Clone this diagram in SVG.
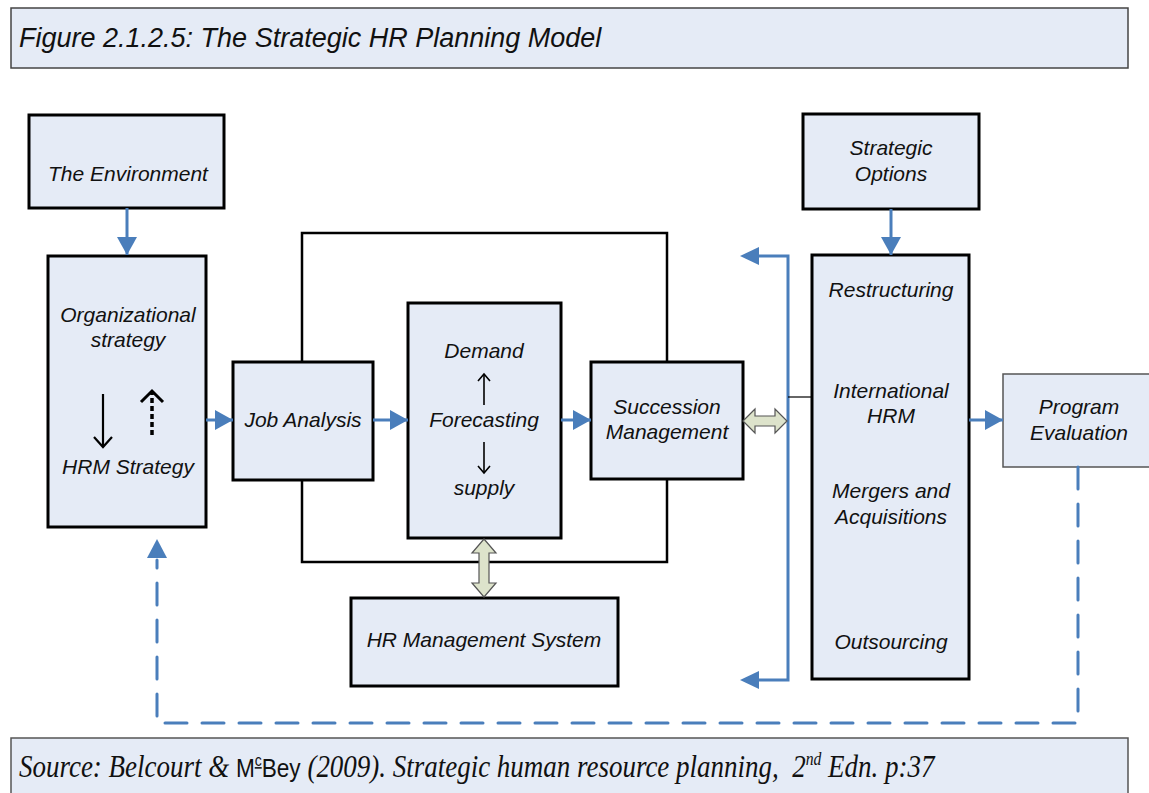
<svg xmlns="http://www.w3.org/2000/svg" width="1149" height="793" viewBox="0 0 1149 793">
<style>
.box{fill:#e5ebf6;stroke:#000;stroke-width:3}
.thin{fill:#e5ebf6;stroke:#555;stroke-width:1.5}
.t{font-family:"Liberation Sans",Arial,sans-serif;font-style:italic;font-size:21px;fill:#111;text-anchor:middle}
.blue{stroke:#4a7ebb;stroke-width:3;fill:none}
.bh{fill:#4a7ebb}
.blk{fill:#dde3cb;stroke:#555;stroke-width:1.2}
</style>
<defs>
<marker id="ah" markerUnits="userSpaceOnUse" markerWidth="20" markerHeight="22" refX="18" refY="10" orient="auto">
<path d="M0,0 L18,10 L0,20 Z" fill="#4a7ebb"/>
</marker>
</defs>

<g id="title">
<rect x="11" y="8" width="1117" height="60" class="thin" style="stroke:#444"/>
<text x="19" y="47" style="font-family:'Liberation Sans',Arial,sans-serif;font-style:italic;font-size:27px;fill:#111">Figure 2.1.2.5: The Strategic HR Planning Model</text>
</g>

<g id="outer-frame">
<rect x="302" y="233" width="365" height="329" fill="none" stroke="#000" stroke-width="2.5"/>
</g>

<g id="environment">
<rect x="29" y="115" width="195" height="93" class="box"/>
<text x="128" y="181" class="t">The Environment</text>
</g>

<g id="org-strategy">
<rect x="48" y="256" width="158" height="271" class="box"/>
<text x="128" y="322" class="t">Organizational</text>
<text x="128" y="347" class="t">strategy</text>
<text x="128" y="474" class="t">HRM Strategy</text>
<line x1="103" y1="394" x2="103" y2="447" stroke="#000" stroke-width="2.2"/>
<polyline points="94,437 103,447 112,437" fill="none" stroke="#000" stroke-width="2.2"/>
<line x1="152" y1="435" x2="152" y2="393" stroke="#000" stroke-width="3.5" stroke-dasharray="5,3"/>
<polyline points="141,402 152,391 163,402" fill="none" stroke="#000" stroke-width="3"/>
</g>

<g id="job-analysis">
<rect x="233" y="362" width="140" height="118" class="box"/>
<text x="303" y="427" class="t">Job Analysis</text>
</g>

<g id="forecasting">
<rect x="408" y="303" width="153" height="235" class="box"/>
<text x="484" y="358" class="t">Demand</text>
<text x="484" y="427" class="t">Forecasting</text>
<text x="484" y="495" class="t">supply</text>
<line x1="484" y1="405" x2="484" y2="374" stroke="#000" stroke-width="1.6"/>
<polyline points="478,381 484,374 490,381" fill="none" stroke="#000" stroke-width="1.6"/>
<line x1="484" y1="442" x2="484" y2="473" stroke="#000" stroke-width="1.6"/>
<polyline points="478,466 484,473 490,466" fill="none" stroke="#000" stroke-width="1.6"/>
</g>

<g id="succession">
<rect x="591" y="362" width="152" height="117" class="box"/>
<text x="667" y="414" class="t">Succession</text>
<text x="667" y="439" class="t">Management</text>
</g>

<g id="hr-system">
<rect x="351" y="598" width="267" height="88" class="box"/>
<text x="484" y="647" class="t">HR Management System</text>
</g>

<g id="strategic-options">
<rect x="803" y="114" width="176" height="95" class="box"/>
<text x="891" y="155" class="t">Strategic</text>
<text x="891" y="181" class="t">Options</text>
</g>

<g id="options-list">
<rect x="812" y="255" width="157" height="424" class="box"/>
<text x="891" y="297" class="t">Restructuring</text>
<text x="891" y="398" class="t">International</text>
<text x="891" y="423" class="t">HRM</text>
<text x="891" y="498" class="t">Mergers and</text>
<text x="891" y="524" class="t">Acquisitions</text>
<text x="891" y="649" class="t">Outsourcing</text>
</g>

<g id="program-evaluation">
<rect x="1003" y="374" width="150" height="93" class="thin"/>
<text x="1079" y="414" class="t">Program</text>
<text x="1079" y="440" class="t">Evaluation</text>
</g>

<g id="connectors">
<line x1="127" y1="208" x2="127" y2="255" class="blue" marker-end="url(#ah)"/>
<line x1="891" y1="209" x2="891" y2="255" class="blue" marker-end="url(#ah)"/>
<line x1="206" y1="420" x2="233" y2="420" class="blue" marker-end="url(#ah)"/>
<line x1="373" y1="420" x2="408" y2="420" class="blue" marker-end="url(#ah)"/>
<line x1="561" y1="420" x2="591" y2="420" class="blue" marker-end="url(#ah)"/>
<line x1="969" y1="420" x2="1003" y2="420" class="blue" marker-end="url(#ah)"/>
<polyline points="758,256 788,256 788,680 758,680" class="blue"/>
<path d="M740,256 L759,247 L759,265 Z" class="bh"/>
<path d="M740,680 L759,671 L759,689 Z" class="bh"/>
<line x1="788" y1="397" x2="812" y2="397" stroke="#000" stroke-width="1.2"/>
<polygon class="blk" points="743,421 755,409 755,416 775,416 775,409 787,421 775,433 775,426 755,426 755,433"/>
<polygon class="blk" points="484,539 496,553 489,553 489,583 496,583 484,597 472,583 479,583 479,553 472,553"/>
<polyline points="1078,467 1078,723 157,723 157,560" fill="none" stroke="#4a7ebb" stroke-width="3" stroke-dasharray="22,15" stroke-linecap="round"/>
<path d="M157,539 L147,558 L167,558 Z" class="bh"/>
</g>

<g id="source">
<rect x="11" y="738" width="1117" height="70" class="thin" style="stroke:#555"/>
<text transform="translate(19,777) scale(0.87,1)" style="font-family:'Liberation Serif','Times New Roman',serif;font-style:italic;font-size:31px;fill:#111;white-space:pre">Source: Belcourt &amp; <tspan style="font-family:'Liberation Sans',Arial,sans-serif;font-style:normal;font-size:26px">M</tspan><tspan dy="-11" style="font-family:'Liberation Sans',Arial,sans-serif;font-style:normal;font-size:16px;text-decoration:underline">c</tspan><tspan dy="11" style="font-family:'Liberation Sans',Arial,sans-serif;font-style:normal;font-size:26px">Bey</tspan> (2009). Strategic human resource planning,  2<tspan dy="-12" style="font-size:18px">nd</tspan><tspan dy="12"> Edn. p:37</tspan></text>
</g>
</svg>
